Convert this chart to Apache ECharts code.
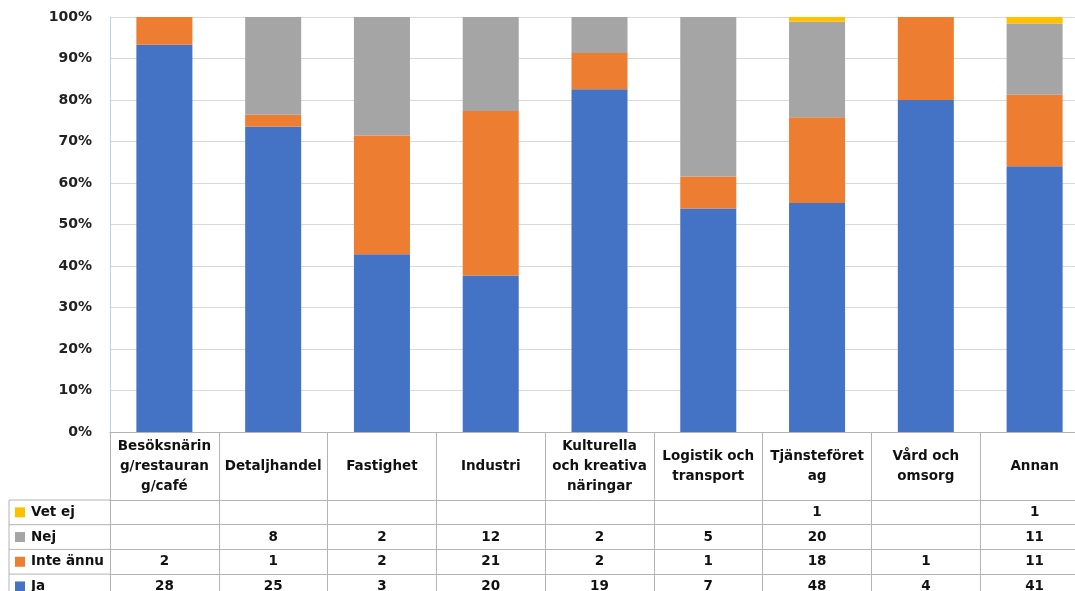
<!DOCTYPE html>
<html>
<head>
<meta charset="utf-8">
<script src="https://cdn.jsdelivr.net/npm/echarts@6/dist/echarts.min.js"></script>
<style>
html,body{margin:0;padding:0;background:#fff;}
#chart{width:1075px;height:591px;}
</style>
</head>
<body>
<div id="chart"></div>
<script>
// ---- data ----
const categories = ['Besöksnäring/restaurang/café','Detaljhandel','Fastighet','Industri','Kulturella och kreativa näringar','Logistik och transport','Tjänsteföretag','Vård och omsorg','Annan'];
const categoryLabels = ['Besöksnärin\ng/restauran\ng/café','Detaljhandel','Fastighet','Industri','Kulturella\noch kreativa\nnäringar','Logistik och\ntransport','Tjänsteföret\nag','Vård och\nomsorg','Annan'];
const ja       = [28, 25, 3, 20, 19, 7, 48, 4, 41];
const inteAnnu = [2, 1, 2, 21, 2, 1, 18, 1, 11];
const nej      = [null, 8, 2, 12, 2, 5, 20, null, 11];
const vetEj    = [null, null, null, null, null, null, 1, null, 1];
const seriesNames = ['Ja', 'Inte ännu', 'Nej', 'Vet ej'];

// ---- styles / layout ----
const colors = {'Ja':'#4472c4','Inte ännu':'#ed7d31','Nej':'#a5a5a5','Vet ej':'#ffc000'};
const FONT = 'DejaVu Sans';
const TFS = 13.5;
const GRID_LEFT = 110, GRID_TOP = 17, GRID_W = 979, GRID_H = 415;
const HEADER_H = 68, ROW_H = 24.7;
const TABLE_LINE = '#b3b3b3';
const TABLE_LEFT = 9;

const seriesData = {'Ja':ja,'Inte ännu':inteAnnu,'Nej':nej,'Vet ej':vetEj};
const totals = categories.map((c,i)=>seriesNames.reduce((s,n)=>s+(seriesData[n][i]||0),0));
const pct = arr => arr.map((v,i)=> v==null ? null : v/totals[i]*100);

// table rows (top to bottom)
const tableRows = ['Vet ej','Nej','Inte ännu','Ja'];

const xAxes = [{
  type:'category', gridIndex:0, data:categories, position:'bottom',
  axisLine:{show:true, lineStyle:{color:TABLE_LINE, width:1}},
  axisTick:{show:true, interval:0, length:HEADER_H, lineStyle:{color:TABLE_LINE}},
  axisLabel:{interval:0, margin:HEADER_H/2, verticalAlign:'middle', align:'center',
    formatter:(v,i)=>categoryLabels[i], fontFamily:FONT, fontWeight:'bold', fontSize:TFS,
    color:'#111', lineHeight:20}
}];
tableRows.forEach((name,r)=>{
  const arr = seriesData[name];
  xAxes.push({
    type:'category', gridIndex:0, data:categories, position:'bottom',
    offset: HEADER_H + r*ROW_H,
    axisLine:{show:true, lineStyle:{color:TABLE_LINE, width:1}},
    axisTick:{show:true, interval:0, length:ROW_H, lineStyle:{color:TABLE_LINE}},
    axisLabel:{interval:0, margin:ROW_H/2, verticalAlign:'middle', align:'center',
      formatter:(v,i)=> arr[i]==null ? '' : String(arr[i]),
      fontFamily:FONT, fontWeight:'bold', fontSize:TFS, color:'#111'},
    splitLine:{show:false}
  });
});

// left column of the table (legend cells)
const graphics = [];
const tableTop = GRID_TOP + GRID_H + HEADER_H;
for (let r=0; r<=tableRows.length; r++){
  graphics.push({type:'line', shape:{x1:TABLE_LEFT, y1:tableTop+r*ROW_H, x2:GRID_LEFT, y2:tableTop+r*ROW_H},
    style:{stroke:TABLE_LINE, lineWidth:1}, silent:true});
}
graphics.push({type:'line', shape:{x1:TABLE_LEFT, y1:tableTop, x2:TABLE_LEFT, y2:tableTop+tableRows.length*ROW_H},
  style:{stroke:TABLE_LINE, lineWidth:1}, silent:true});
tableRows.forEach((name,r)=>{
  const cy = tableTop + r*ROW_H + ROW_H/2;
  graphics.push({type:'rect', shape:{x:15, y:cy-5, width:10, height:10}, style:{fill:colors[name]}, silent:true});
  graphics.push({type:'text', x:31, y:cy, style:{text:name, fontFamily:FONT, fontWeight:'bold', fontSize:TFS,
    fill:'#111', verticalAlign:'middle', align:'left'}, silent:true});
});

const chart = echarts.init(document.getElementById('chart'));
chart.setOption({
  animation:false,
  grid:{left:GRID_LEFT, top:GRID_TOP, width:GRID_W, height:GRID_H, outerBoundsMode:'none', containLabel:false},
  xAxis:xAxes,
  yAxis:{
    type:'value', min:0, max:100, interval:10,
    axisLine:{show:true, lineStyle:{color:'#c3cfe6', width:1}},
    axisTick:{show:false},
    axisLabel:{formatter:'{value}%', margin:18, fontFamily:FONT, fontWeight:'bold', fontSize:14, color:'#222'},
    splitLine:{show:true, lineStyle:{color:'#d9d9d9', width:1}}
  },
  series: seriesNames.map(n=>({
    name:n, type:'bar', stack:'total', xAxisIndex:0,
    data:pct(seriesData[n]), barCategoryGap:'48.5%',
    itemStyle:{color:colors[n]}
  })),
  graphic:graphics
});
</script>
</body>
</html>
